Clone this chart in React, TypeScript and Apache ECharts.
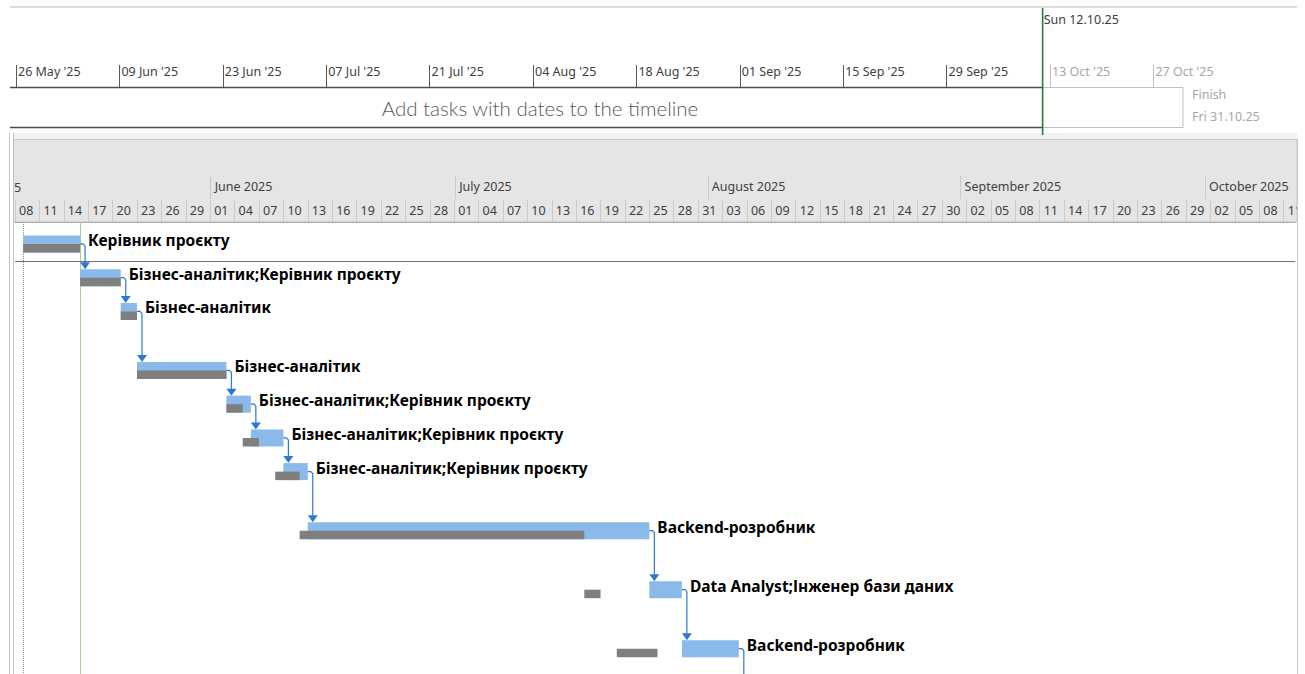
import React, { useEffect, useRef } from "react";
import * as echarts from "echarts";

// ---------- data ----------
const viewStartDate = "2025-05-08"; // day 0 of the Gantt scale
const projectStartDate = "2025-05-09";
const statusDate = "2025-05-16";
const todayDate = "2025-10-12";
const projectFinishDate = "2025-10-31";

const taskResources = [
  "Керівник проєкту",
  "Бізнес-аналітик;Керівник проєкту",
  "Бізнес-аналітик",
  "Бізнес-аналітик",
  "Бізнес-аналітик;Керівник проєкту",
  "Бізнес-аналітик;Керівник проєкту",
  "Бізнес-аналітик;Керівник проєкту",
  "Backend-розробник",
  "Data Analyst;Інженер бази даних",
  "Backend-розробник",
];
const taskStart = ["2025-05-09", "2025-05-16", "2025-05-21", "2025-05-23", "2025-06-03", "2025-06-06", "2025-06-10", "2025-06-13", "2025-07-25", "2025-07-29"];
const taskFinish = ["2025-05-16", "2025-05-21", "2025-05-23", "2025-06-03", "2025-06-06", "2025-06-10", "2025-06-13", "2025-07-25", "2025-07-29", "2025-08-05"];
const baselineStart = ["2025-05-09", "2025-05-16", "2025-05-21", "2025-05-23", "2025-06-03", "2025-06-05", "2025-06-09", "2025-06-12", "2025-07-17", "2025-07-21"];
const baselineFinish = ["2025-05-16", "2025-05-21", "2025-05-23", "2025-06-03", "2025-06-05", "2025-06-07", "2025-06-12", "2025-07-17", "2025-07-19", "2025-07-26"];
const rowPosition = [0, 1, 2, 3.75, 4.75, 5.75, 6.75, 8.5, 10.25, 12];
const lastTaskHasSuccessor = true;

const monthStartDates = ["2025-06-01", "2025-07-01", "2025-08-01", "2025-09-01", "2025-10-01"];
const clippedMonthFragment = "5"; // visible tail of "May 2025" at the left edge
const timelineTickDates = ["2025-05-26", "2025-06-09", "2025-06-23", "2025-07-07", "2025-07-21", "2025-08-04", "2025-08-18", "2025-09-01", "2025-09-15", "2025-09-29", "2025-10-13", "2025-10-27"];

// ---------- helpers ----------
const DAY_MS = 86400000;
const DAY0 = Date.parse(viewStartDate + "T00:00:00Z");
const dayIdx = (s: string) => (Date.parse(s + "T00:00:00Z") - DAY0) / DAY_MS;
const toDate = (d: number) => new Date(DAY0 + Math.round(d) * DAY_MS);
const MONTHS = ["January", "February", "March", "April", "May", "June", "July", "August", "September", "October", "November", "December"];
const MON3 = ["Jan", "Feb", "Mar", "Apr", "May", "Jun", "Jul", "Aug", "Sep", "Oct", "Nov", "Dec"];
const WDAY = ["Sun", "Mon", "Tue", "Wed", "Thu", "Fri", "Sat"];
const p2 = (n: number) => String(n).padStart(2, "0");
const fmtDay = (d: number) => p2(toDate(d).getUTCDate());
const fmtMonth = (d: number) => { const t = toDate(d); return MONTHS[t.getUTCMonth()] + " " + t.getUTCFullYear(); };
const fmtTick = (d: number) => { const t = toDate(d); return p2(t.getUTCDate()) + " " + MON3[t.getUTCMonth()] + " '" + String(t.getUTCFullYear()).slice(2); };
const fmtFull = (d: number) => { const t = toDate(d); return WDAY[t.getUTCDay()] + " " + p2(t.getUTCDate()) + "." + p2(t.getUTCMonth() + 1) + "." + String(t.getUTCFullYear()).slice(2); };

const todayD = dayIdx(todayDate);
const finishD = dayIdx(projectFinishDate);
const projStartD = dayIdx(projectStartDate);
const statusD = dayIdx(statusDate);
const monthTicks = monthStartDates.map(dayIdx);
const tlTicks = timelineTickDates.map(dayIdx);
const tlPast = tlTicks.filter((d) => d <= todayD);
const tlFuture = tlTicks.filter((d) => d > todayD);

const ganttData = taskStart.map((s, i) => [
  dayIdx(s), dayIdx(taskFinish[i]), dayIdx(baselineStart[i]), dayIdx(baselineFinish[i]), rowPosition[i],
]);

const BLUE = "#8AB9EA";
const GRAY = "#7F7F7F";
const LINK = "#2E78D2";
const FONT = "Noto Sans";
const BAR_H = 17;

const renderTask = (params: any, api: any) => {
  const i = params.dataIndex;
  const cs = params.coordSys;
  const yc = api.coord([0, api.value(4)])[1];
  const x0 = api.coord([api.value(0), 0])[0];
  const x1 = api.coord([api.value(1), 0])[0];
  const b0 = api.coord([api.value(2), 0])[0];
  const b1 = api.coord([api.value(3), 0])[0];
  const children: any[] = [
    { type: "rect", shape: { x: x0, y: yc - BAR_H / 2, width: x1 - x0, height: BAR_H }, style: { fill: BLUE } },
    { type: "rect", shape: { x: b0, y: yc, width: b1 - b0, height: BAR_H / 2 }, style: { fill: GRAY } },
  ];
  if (i < ganttData.length - 1) {
    const nx = api.coord([ganttData[i + 1][0], 0])[0];
    const ny = api.coord([0, ganttData[i + 1][4]])[1] - BAR_H / 2;
    const xv = Math.max(x1, nx) + 5;
    children.push({ type: "polyline", shape: { points: [[x1, yc], [xv - 2, yc], [xv, yc + 2], [xv, ny - 5]] }, style: { stroke: LINK, lineWidth: 1.2, fill: null } });
    children.push({ type: "polygon", shape: { points: [[xv - 5, ny - 7], [xv + 5, ny - 7], [xv, ny]] }, style: { fill: LINK } });
  } else if (lastTaskHasSuccessor) {
    const xv = x1 + 5;
    children.push({ type: "polyline", shape: { points: [[x1, yc], [xv - 2, yc], [xv, yc + 2], [xv, cs.y + cs.height]] }, style: { stroke: LINK, lineWidth: 1.2, fill: null } });
  }
  children.push({
    type: "text", x: x1 + 8, y: yc - 4,
    style: { text: taskResources[i], fill: "#000", fontSize: 15.5, fontWeight: "bold", fontFamily: FONT, align: "left", verticalAlign: "middle" },
  });
  return { type: "group", children };
};

const renderTimeline = (params: any, api: any) => {
  const cs = params.coordSys;
  const xs = Math.max(api.coord([api.value(0), 0.5])[0], cs.x);
  const xt = api.coord([api.value(1), 0.5])[0];
  const xf = api.coord([api.value(2), 0.5])[0];
  const top = cs.y;
  const bot = cs.y + cs.height;
  return {
    type: "group",
    children: [
      { type: "line", shape: { x1: xs, y1: top + 0.5, x2: xt, y2: top + 0.5 }, style: { stroke: "#4D4D4D", lineWidth: 1.3 } },
      { type: "line", shape: { x1: xs, y1: bot + 0.5, x2: xt, y2: bot + 0.5 }, style: { stroke: "#4D4D4D", lineWidth: 1.3 } },
      { type: "rect", shape: { x: xt, y: top + 0.5, width: xf - xt, height: cs.height }, style: { stroke: "#BFBFBF", fill: null, lineWidth: 1 } },
      { type: "line", shape: { x1: xt, y1: top - 79, x2: xt, y2: bot + 8 }, style: { stroke: "#2A7A3B", lineWidth: 1.6 } },
      { type: "text", x: xt + 1, y: top - 68, style: { text: fmtFull(api.value(1)), fill: "#404040", fontSize: 12.5, fontFamily: FONT, align: "left", verticalAlign: "middle" } },
      { type: "text", x: xf + 9, y: top + 7, style: { text: "Finish", fill: "#A6A6A6", fontSize: 12.5, fontFamily: FONT, align: "left", verticalAlign: "middle" } },
      { type: "text", x: xf + 9, y: top + 29, style: { text: fmtFull(api.value(2)), fill: "#A6A6A6", fontSize: 12.5, fontFamily: FONT, align: "left", verticalAlign: "middle" } },
    ],
  };
};

const hiddenY = (gridIndex: number) => ({ type: "value", gridIndex, min: 0, max: 1, show: false });

const timelineAxis = (gridIndex: number, ticks: number[], color: string, tickColor: string) => ({
  type: "value", gridIndex, position: "top", min: 17.19, max: 191.44,
  axisLine: { show: false, onZero: false },
  splitLine: { show: false },
  axisTick: { show: true, customValues: ticks, length: 22, lineStyle: { color: tickColor, width: 1 } },
  axisLabel: { show: true, customValues: ticks, formatter: (v: number) => fmtTick(v), align: "left", padding: [0, 0, 0, 2], margin: 9, color, fontSize: 12.5, fontFamily: FONT, hideOverlap: false },
});

const option: any = {
  animation: false,
  backgroundColor: "#ffffff",
  textStyle: { fontFamily: FONT },
  grid: [
    { left: 15, right: 7, top: 222, bottom: 0 },
    { left: 15, right: 7, top: 199, height: 1 },
    { left: 10, right: 8, top: 87, height: 40 },
    { left: 10, right: 8, top: 87, height: 40 },
  ],
  xAxis: [
    {
      type: "value", gridIndex: 0, position: "top", min: 0, max: 157.4, interval: 3,
      axisLine: { show: true, onZero: false, lineStyle: { color: "#ABABAB", width: 1 } },
      splitLine: { show: false },
      axisTick: { show: true, length: 22, lineStyle: { color: "#CACACA" } },
      axisLabel: { formatter: (v: number) => fmtDay(v), align: "left", padding: [0, 0, 0, 4], margin: 5, color: "#404040", fontSize: 12.5, fontFamily: FONT, showMinLabel: true, showMaxLabel: false, hideOverlap: false },
    },
    {
      type: "value", gridIndex: 1, position: "top", min: 0, max: 157.4,
      axisLine: { show: false, onZero: false },
      splitLine: { show: false },
      axisTick: { show: true, customValues: monthTicks, length: 23, lineStyle: { color: "#CACACA" } },
      axisLabel: { customValues: monthTicks, formatter: (v: number) => fmtMonth(v), align: "left", padding: [0, 0, 0, 4], margin: 6, color: "#404040", fontSize: 12.5, fontFamily: FONT, hideOverlap: false },
    },
    timelineAxis(2, tlPast, "#404040", "#595959"),
    timelineAxis(3, tlFuture, "#A6A6A6", "#BFBFBF"),
  ],
  yAxis: [
    { type: "value", gridIndex: 0, min: -0.65, max: 12.75, inverse: true, show: false },
    hiddenY(1),
    hiddenY(2),
    hiddenY(3),
  ],
  graphic: {
    elements: [
      { type: "rect", z: -10, shape: { x: 10, y: 6, width: 1287, height: 2 }, style: { fill: "#DCDCDC" } },
      { type: "rect", z: -10, shape: { x: 10, y: 133, width: 1287, height: 6 }, style: { fill: "#F2F2F2" } },
      { type: "rect", z: -10, shape: { x: 10, y: 139.5, width: 1287, height: 82.5 }, style: { fill: "#E5E5E5", stroke: "#C8C8C8", lineWidth: 1 } },
      { type: "text", z: 5, x: 540, y: 108, style: { text: "Add tasks with dates to the timeline", fill: "#595959", fontSize: 20.5, fontWeight: 300, fontFamily: "Lato", align: "center", verticalAlign: "middle" } },
      { type: "text", z: 5, x: 14, y: 187, style: { text: clippedMonthFragment, fill: "#404040", fontSize: 12.5, fontFamily: FONT, align: "left", verticalAlign: "middle" } },
      { type: "rect", z: 100, shape: { x: 0, y: 133, width: 13, height: 541 }, style: { fill: "#ffffff" } },
      { type: "line", z: 101, shape: { x1: 9.5, y1: 133, x2: 9.5, y2: 674 }, style: { stroke: "#C4C4C4", lineWidth: 1 } },
      { type: "line", z: 101, shape: { x1: 13.5, y1: 133, x2: 13.5, y2: 674 }, style: { stroke: "#C4C4C4", lineWidth: 1 } },
      { type: "rect", z: 100, shape: { x: 1297, y: 139, width: 8, height: 535 }, style: { fill: "#ffffff" } },
      { type: "line", z: 101, shape: { x1: 1297.5, y1: 139, x2: 1297.5, y2: 674 }, style: { stroke: "#C8C8C8", lineWidth: 1 } },
    ],
  },
  series: [
    {
      type: "line", xAxisIndex: 0, yAxisIndex: 0, data: [], silent: true,
      markLine: {
        silent: true, symbol: ["none", "none"], label: { show: false }, animation: false,
        data: [
          { xAxis: statusD, lineStyle: { color: "#A9D08E", width: 1, type: "solid" } },
          { xAxis: projStartD, lineStyle: { color: "#8C8C8C", width: 1, type: "dotted" } },
          { yAxis: 0.5, lineStyle: { color: "#707070", width: 1, type: "solid" } },
        ],
      },
    },
    {
      type: "custom", xAxisIndex: 0, yAxisIndex: 0, clip: true,
      encode: { x: [0, 1, 2, 3], y: 4 },
      renderItem: renderTask,
      data: ganttData,
      z: 5,
    },
    {
      type: "custom", xAxisIndex: 2, yAxisIndex: 2,
      encode: { x: [0, 1, 2] },
      renderItem: renderTimeline,
      data: [[projStartD, todayD, finishD]],
    },
  ],
};

export default function App() {
  const ref = useRef<HTMLDivElement>(null);
  useEffect(() => {
    const chart = echarts.init(ref.current!, null, { renderer: "svg" });
    chart.setOption(option);
    return () => chart.dispose();
  }, []);
  return (
    <div
      ref={ref}
      style={{ position: "fixed", left: 0, top: 0, width: 1305, height: 674, background: "#ffffff" }}
    />
  );
}
